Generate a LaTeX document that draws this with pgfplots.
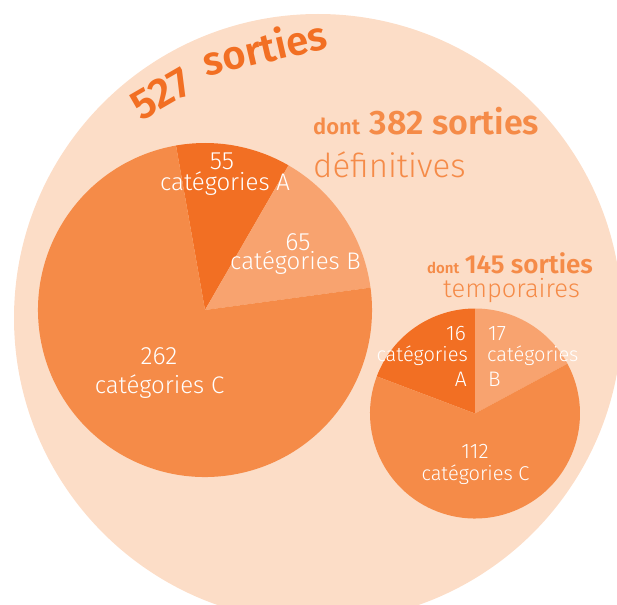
\documentclass[border=0pt]{standalone}
\usepackage{pgfplots}
\pgfplotsset{compat=1.18}
\usepackage{pgfplotstable}
\usepackage{fontspec}
\setmainfont{Fira Sans}
\newfontfamily\lightfont{Fira Sans}[UprightFont=* Light]
\newfontfamily\boldfont{Fira Sans}[UprightFont=* SemiBold]
\newcommand\lf[1]{\lightfont\fontsize{#1}{#1}\selectfont}
\newcommand\bfnt[1]{\boldfont\fontsize{#1}{#1}\selectfont}

\definecolor{bgc}{HTML}{FCDDC7}
\definecolor{catA}{HTML}{F26F23}
\definecolor{catB}{HTML}{F8A36F}
\definecolor{catC}{HTML}{F58B48}

% sorties definitives (382): value, slice angles as drawn
\pgfplotstableread{
label value start end
A 55 60 100
B 65 7.7 60
C 262 100 367.7
}\definitives
% sorties temporaires (145)
\pgfplotstableread{
label value start end
A 16 90 159.3
B 17 28.3 90
C 112 159.3 388.3
}\temporaires

\newcommand\readpie[2]{%
  \foreach \r/\n in {0/A,1/B,2/C}{%
    \pgfplotstablegetelem{\r}{start}\of#1\expandafter\xdef\csname #2start\n\endcsname{\pgfplotsretval}%
    \pgfplotstablegetelem{\r}{end}\of#1\expandafter\xdef\csname #2end\n\endcsname{\pgfplotsretval}%
    \pgfplotstablegetelem{\r}{value}\of#1\expandafter\xdef\csname #2val\n\endcsname{\pgfplotsretval}%
  }}
\readpie\definitives{pd}
\readpie\temporaires{pt}

% cx, cy, r, start, end, colour
\newcommand\slice[6]{\fill[#6] (axis cs:#1,#2) -- ++(#4:#3pt) arc[start angle=#4, end angle=#5, radius=#3pt] -- cycle;}

\begin{document}
\begin{tikzpicture}
\useasboundingbox (0,0) rectangle (617pt,604pt);
\begin{axis}[at={(0,0)}, anchor=south west, scale only axis,
  width=617pt, height=604pt, xmin=0, xmax=617, ymin=0, ymax=604,
  y dir=reverse, hide axis, clip=true]

\fill[bgc] (axis cs:318,318) circle[radius=304pt];

\slice{205}{310}{167}{\pdstartA}{\pdendA}{catA}
\slice{205}{310}{167}{\pdstartB}{\pdendB}{catB}
\slice{205}{310}{167}{\pdstartC}{\pdendC}{catC}

\slice{475}{413.5}{105}{\ptstartA}{\ptendA}{catA}
\slice{475}{413.5}{105}{\ptstartB}{\ptendB}{catB}
\slice{475}{413.5}{105}{\ptstartC}{\ptendC}{catC}

% 527 sorties, following the big circle
\node[anchor=base, inner sep=0, text=catA, rotate=30, font=\bfnt{42}] at (axis cs:168,106) {527};
\node[anchor=base, inner sep=0, text=catA, rotate=13, font=\bfnt{40}] at (axis cs:268,62) {sorties};

\node[anchor=base west, inner sep=0, text=catC] at (axis cs:313,135)
  {\bfnt{22}dont\hspace{4pt} \bfnt{34}382 sorties};
\node[anchor=base west, inner sep=0, text=catC, font=\lf{33}] at (axis cs:313,177) {définitives};
\node[anchor=base, inner sep=0, text=catC] at (axis cs:510,273)
  {\bfnt{15}dont\hspace{2pt} \bfnt{26}145 sorties};
\node[anchor=base, inner sep=0, text=catC, font=\lf{25.5}] at (axis cs:511.5,297) {temporaires};

\begin{scope}[every node/.style={inner sep=0, text=white}]
\node[anchor=base, font=\lf{25}] at (axis cs:222,169) {\pdvalA};
\node[anchor=base, font=\lf{24}] at (axis cs:225,190) {catégories A};
\node[anchor=base, font=\lf{25}] at (axis cs:298,250) {\pdvalB};
\node[anchor=base, font=\lf{24}] at (axis cs:295.5,269.3) {catégories B};
\node[anchor=base, font=\lf{25}] at (axis cs:159,364) {\pdvalC};
\node[anchor=base, font=\lf{24}] at (axis cs:159.5,393) {catégories C};

\node[anchor=base east, font=\lf{21}] at (axis cs:466,340) {\ptvalA};
\node[anchor=base east, font=\lf{20}] at (axis cs:468,361.7) {catégories};
\node[anchor=base east, font=\lf{21}] at (axis cs:467,386.7) {A};
\node[anchor=base west, font=\lf{21}] at (axis cs:488,340) {\ptvalB};
\node[anchor=base west, font=\lf{20}] at (axis cs:487,361.7) {catégories};
\node[anchor=base west, font=\lf{21}] at (axis cs:488,386.7) {B};
\node[anchor=base, font=\lf{21}] at (axis cs:475,458.3) {\ptvalC};
\node[anchor=base, font=\lf{20}] at (axis cs:475.5,480) {catégories C};
\end{scope}
\end{axis}
\end{tikzpicture}
\end{document}
